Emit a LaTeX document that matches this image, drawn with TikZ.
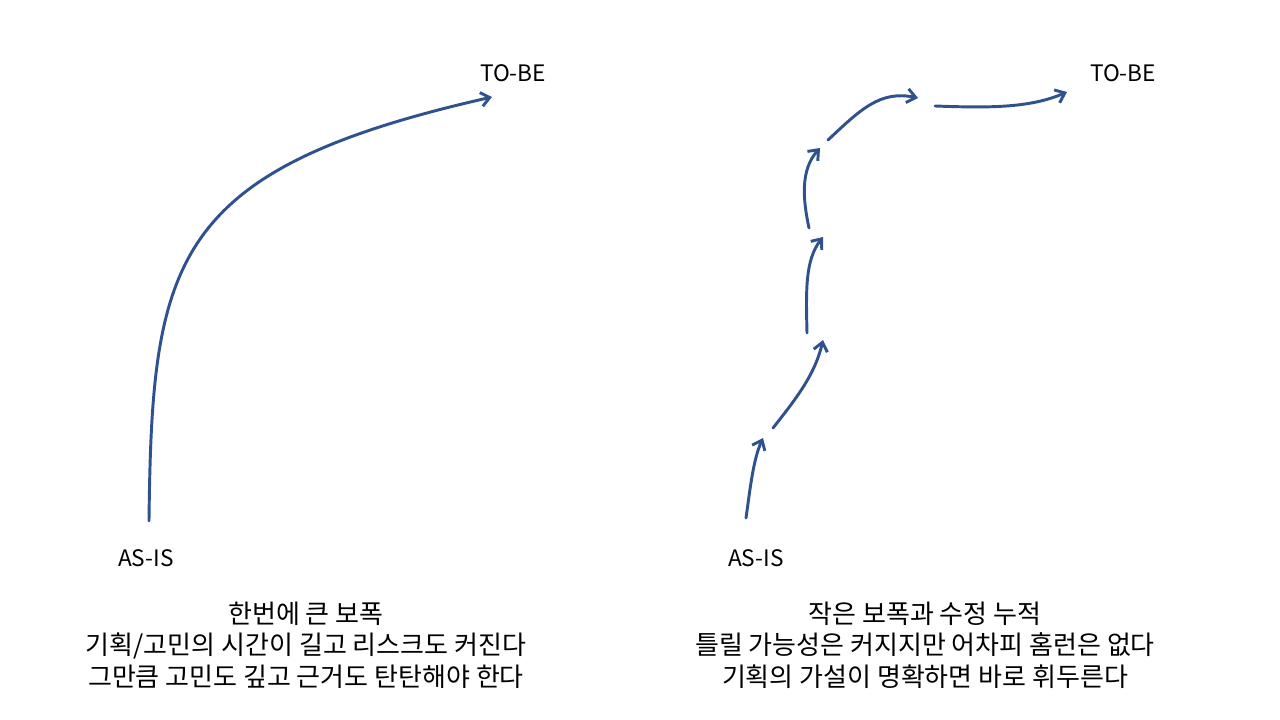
\documentclass[tikz,border=0pt]{standalone}
\usepackage{fontspec}
\setmainfont{Noto Sans CJK KR}
\usetikzlibrary{arrows.meta}
\definecolor{arrowblue}{RGB}{47,82,143}

\begin{document}
\begin{tikzpicture}[x=.75pt, y=-.75pt,
  flow/.style={draw=arrowblue, line width=2.2pt, line cap=round,
    -{Straight Barb[length=6.5pt,width=10.5pt,line width=2.2pt]}},
  tag/.style={font=\fontsize{17}{20}\selectfont},
  note/.style={align=center, font=\fontsize{19.5}{23.6}\selectfont}
  ]
  \fill[white] (0,0) rectangle (1280,720);
  % left: one big step
  \node[tag] (tobeL) at (513,73) {TO-BE};
  \node[tag] (asisL) at (146,558) {AS-IS};
  \coordinate (l0) at (149,521);
  \coordinate (l1) at (492,97);
  \draw[flow] (l0) .. controls (152,260) and (170,170) .. (l1);
  \node[note] (noteL) at (306,645) {한번에 큰 보폭\\기획/고민의 시간이 길고 리스크도 커진다\\그만큼 고민도 깊고 근거도 탄탄해야 한다};
  % right: small steps
  \node[tag] (tobeR) at (1123,73) {TO-BE};
  \node[tag] (asisR) at (756,558) {AS-IS};
  \coordinate (r0) at (746,518);
  \coordinate (r1) at (763,438);
  \coordinate (r2) at (773,428);
  \coordinate (r3) at (823,340);
  \coordinate (r4) at (807,333);
  \coordinate (r5) at (823,237);
  \coordinate (r6) at (809,228);
  \coordinate (r7) at (820,148);
  \coordinate (r8) at (828,140);
  \coordinate (r9) at (918,98);
  \coordinate (r10) at (935,106);
  \coordinate (r11) at (1067,92);
  \draw[flow] (r0) .. controls (750,490) and (753,460) .. (r1);
  \draw[flow] (r2) .. controls (795,400) and (815,375) .. (r3);
  \draw[flow] (r4) .. controls (806,290) and (805,260) .. (r5);
  \draw[flow] (r6) .. controls (803,200) and (800,170) .. (r7);
  \draw[flow] (r8) .. controls (860,110) and (880,90) .. (r9);
  \draw[flow] (r10) .. controls (990,108) and (1030,108) .. (r11);
  \node[note] (noteR) at (925,645) {작은 보폭과 수정 누적\\틀릴 가능성은 커지지만 어차피 홈런은 없다\\기획의 가설이 명확하면 바로 휘두른다};
\end{tikzpicture}
\end{document}
